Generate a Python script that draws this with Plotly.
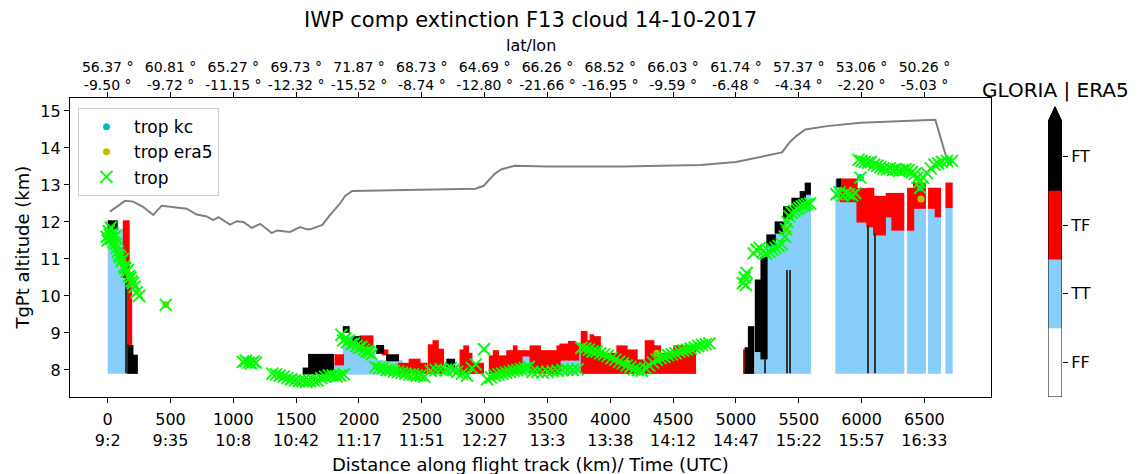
import plotly.graph_objects as go

FONT = "DejaVu Sans"

# ---- axis ticks along the flight track ----
dist_ticks = [0, 500, 1000, 1500, 2000, 2500, 3000, 3500, 4000, 4500, 5000, 5500, 6000, 6500]
time_labels = ["9:2", "9:35", "10:8", "10:42", "11:17", "11:51", "12:27", "13:3",
               "13:38", "14:12", "14:47", "15:22", "15:57", "16:33"]
lat_labels = ["56.37", "60.81", "65.27", "69.73", "71.87", "68.73", "64.69", "66.26",
              "68.52", "66.03", "61.74", "57.37", "53.06", "50.26"]
lon_labels = ["-9.50", "-9.72", "-11.15", "-12.32", "-15.52", "-8.74", "-12.80", "-21.66",
              "-16.95", "-9.59", "-6.48", "-4.34", "-2.20", "-5.03"]

# ---- cloud curtain: (x0 km, x1 km, bottom km, top km) per category ----
tt_cells = [  # GLORIA true / ERA5 true
    (5, 150, 7.91, 11.8),
    (1772, 1876, 7.89, 8.14),
    (1876, 1953, 7.89, 8.9), (1953, 2128, 7.89, 8.63),
    (2128, 2341, 7.89, 8.25),
    (2672, 2800, 7.91, 8.09),
    (3297, 3363, 7.91, 8.38),
    (3600, 3748, 7.91, 8.27),
    (3748, 3770, 7.91, 8.6),
    (5155, 5200, 7.91, 8.5), (5200, 5247, 7.91, 8.3),
    (5247, 5313, 7.91, 11.35), (5313, 5380, 7.91, 11.7), (5380, 5446, 7.91, 12.1),
    (5446, 5512, 7.91, 12.35), (5512, 5552, 7.91, 12.55), (5552, 5592, 7.91, 12.75),
    (5796, 5831, 7.91, 13.14), (5831, 5964, 7.91, 12.55), (5964, 6043, 7.91, 12.0),
    (6043, 6096, 7.91, 11.87), (6096, 6189, 7.91, 11.65), (6197, 6242, 7.91, 12.14),
    (6242, 6335, 7.91, 11.78), (6367, 6414, 7.91, 11.78), (6414, 6507, 7.91, 12.37),
    (6534, 6587, 7.91, 12.37), (6587, 6627, 7.91, 12.14), (6672, 6720, 7.91, 12.39),
]
tf_cells = [  # GLORIA true / ERA5 false
    (125, 170, 10.5, 12.03), (150, 190, 8.66, 10.5),
    (1810, 1876, 8.14, 8.41),
    (2009, 2110, 8.63, 8.92),
    (2187, 2229, 8.41, 8.54),
    (2314, 2400, 7.91, 8.18), (2400, 2485, 7.91, 8.29), (2485, 2540, 7.91, 8.18),
    (2553, 2590, 7.91, 8.68), (2590, 2630, 7.91, 8.79), (2630, 2672, 7.91, 8.56),
    (2805, 2835, 7.91, 8.54), (2835, 2871, 7.91, 8.65), (2871, 2898, 7.91, 8.45),
    (2898, 2990, 7.91, 8.18),
    (3038, 3070, 7.91, 8.38), (3070, 3110, 7.91, 8.52), (3110, 3177, 7.91, 8.38),
    (3177, 3230, 7.91, 8.52), (3230, 3257, 7.91, 8.65), (3257, 3297, 7.91, 8.52),
    (3297, 3363, 8.38, 8.52),
    (3363, 3443, 7.91, 8.65), (3443, 3496, 7.91, 8.52), (3496, 3576, 7.91, 8.52),
    (3576, 3600, 7.91, 8.65), (3600, 3668, 8.27, 8.7), (3668, 3721, 8.27, 8.77),
    (3721, 3748, 8.27, 8.7),
    (3770, 3814, 7.91, 9.04), (3814, 3840, 7.91, 8.79), (3840, 3867, 7.91, 8.95),
    (3867, 3920, 7.91, 8.9), (3920, 4053, 7.91, 8.45), (4053, 4133, 7.91, 8.65),
    (4133, 4213, 7.91, 8.54), (4213, 4266, 7.91, 8.27),
    (4279, 4346, 7.91, 8.79), (4346, 4399, 7.91, 8.65), (4399, 4505, 7.91, 8.45),
    (4505, 4678, 7.91, 8.65),
    (5061, 5074, 7.91, 8.54),
    (5831, 5964, 12.55, 13.16), (5964, 6043, 12.0, 12.9), (6043, 6096, 11.87, 12.91),
    (6096, 6189, 11.65, 12.69), (6197, 6242, 12.14, 12.77), (6242, 6335, 11.78, 12.77),
    (6367, 6414, 11.78, 12.91), (6414, 6507, 12.37, 13.05), (6534, 6587, 12.37, 12.91),
    (6587, 6627, 12.14, 12.91), (6672, 6720, 12.39, 13.05),
]
ft_cells = [  # GLORIA false / ERA5 true
    (5, 75, 11.8, 12.03),
    (160, 200, 7.91, 8.66), (200, 235, 7.91, 8.4),
    (1557, 1600, 7.89, 8.05), (1600, 1796, 7.89, 8.42),
    (1876, 1921, 9.02, 9.17), (1953, 2009, 8.7, 8.9),
    (2142, 2195, 8.45, 8.66), (2221, 2314, 8.25, 8.41),
    (2700, 2760, 8.09, 8.29),
    (5074, 5100, 7.91, 8.6), (5100, 5141, 7.91, 9.17),
    (5155, 5200, 8.5, 10.43), (5200, 5247, 8.3, 11.05),
    (5247, 5313, 11.35, 11.65), (5313, 5380, 11.7, 12.0), (5380, 5446, 12.1, 12.41),
    (5446, 5512, 12.35, 12.64), (5512, 5552, 12.55, 12.82), (5552, 5592, 12.75, 13.05),
    (5804, 5831, 12.95, 13.16),
]
# single-profile columns that show up as hairlines
ft_lines = [(149, 7.91, 10.6), (5234, 7.91, 8.3), (5410, 7.91, 10.7), (5432, 7.91, 10.7),
            (6048, 7.91, 11.9), (6104, 7.91, 11.7)]

# ---- aircraft flight altitude ----
flight_km = [18, 85, 138, 204, 284, 363, 430, 629, 709, 788, 841, 881, 974, 1027, 1080,
             1146, 1213, 1306, 1346, 1451, 1491, 1531, 1585, 1613, 1708, 1770, 1850,
             1890, 1946, 2200, 2500, 2925, 2990, 3040, 3080, 3130, 3240, 3500, 3800,
             4100, 4400, 4720, 5000, 5195, 5366, 5432, 5480, 5552, 5725, 5990, 6255,
             6587, 6680]
flight_alt = [12.28, 12.43, 12.57, 12.55, 12.4, 12.19, 12.44, 12.36, 12.2, 12.15, 12.05,
              12.13, 11.93, 12.02, 12.0, 11.84, 11.95, 11.7, 11.77, 11.73, 11.8, 11.86,
              11.8, 11.8, 11.92, 12.19, 12.5, 12.7, 12.84, 12.86, 12.87, 12.9, 12.97,
              13.15, 13.3, 13.42, 13.52, 13.5, 13.49, 13.5, 13.52, 13.54, 13.62, 13.76,
              13.88, 14.17, 14.32, 14.5, 14.59, 14.68, 14.72, 14.76, 13.68]

# ---- tropopause estimates ----
trop_km = [-8, 0, 8, 16, 24, 32, 40, 48, 56, 64, 72, 80, 90, 100, 110, 120, 130, 140, 150,
           160, 170, 180, 190, 200, 215, 230, 250, 462,
           1075, 1100, 1120, 1140, 1160, 1180,
           1310, 1340, 1370, 1400, 1430, 1460, 1490, 1520, 1550, 1580, 1610, 1640, 1670,
           1700, 1730, 1760, 1790, 1820, 1850, 1880,
           1860, 1875, 1890, 1905, 1920, 1940, 1960, 1980, 2000, 2020, 2040, 2060, 2080, 2100,
           2130, 2160, 2190, 2220, 2250, 2280, 2310, 2340, 2370, 2400, 2430, 2460, 2490, 2520,
           2570, 2610, 2650, 2690, 2730, 2750, 2780, 2820, 2860, 2900, 2930, 2995,
           3020, 3050, 3080, 3110, 3140, 3170, 3200, 3230, 3260, 3290, 3320, 3350,
           3380, 3420, 3460, 3500, 3540, 3580, 3620, 3660, 3700, 3740,
           3770, 3800, 3830, 3860, 3890, 3920, 3950, 3980, 4010, 4040, 4070, 4100, 4130,
           4160, 4190, 4220, 4250,
           4280, 4310, 4340, 4370, 4400, 4430, 4460, 4490, 4520, 4550, 4580, 4610, 4640,
           4670, 4700, 4730, 4760, 4790,
           5055, 5070, 5085, 5080,
           5140, 5165, 5190, 5215, 5240, 5265, 5290, 5315, 5340, 5365, 5390, 5400, 5410,
           5425, 5445, 5465, 5485, 5505, 5525, 5545, 5565, 5590,
           5800, 5825, 5850, 5875, 5900, 5925, 5950,
           5975, 6000, 6025, 6050, 6075, 6100, 6125, 6150, 6175, 6200, 6225, 6250, 6275,
           6300, 6325, 6350, 6375, 6400, 6425, 6445, 6460, 6490, 6520, 6550, 6580, 6610,
           6640, 6680, 6720, 5990, 6467]
trop_alt = [11.6, 11.5, 11.75, 11.65, 11.85, 11.55, 11.7, 11.45, 11.6, 11.4, 11.3, 11.2,
            11.1, 11.05, 10.95, 11.0, 10.8, 10.75, 10.65, 10.7, 10.55, 10.5, 10.4, 10.35,
            10.25, 10.1, 10.0, 9.76,
            8.22, 8.25, 8.2, 8.18, 8.23, 8.2,
            7.9, 7.88, 7.85, 7.82, 7.78, 7.75, 7.72, 7.7, 7.7, 7.68, 7.7, 7.72, 7.72,
            7.78, 7.82, 7.85, 7.85, 7.83, 7.85, 7.88,
            8.95, 8.8, 8.85, 8.75, 8.8, 8.7, 8.72, 8.65, 8.6, 8.62, 8.55, 8.5, 8.48, 8.42,
            8.08, 8.05, 8.05, 8.0, 8.0, 7.97, 7.95, 7.93, 7.9, 7.88, 7.88, 7.85, 7.85, 7.82,
            7.98, 8.0, 8.02, 8.0, 8.05, 8.0, 7.95, 7.9, 7.85, 8.05, 8.15, 8.56,
            7.75, 7.8, 7.85, 7.88, 7.9, 7.93, 7.95, 7.98, 8.0, 8.02, 8.05, 8.08,
            7.95, 7.95, 7.93, 7.95, 7.97, 7.98, 8.0, 8.0, 8.0, 8.02,
            8.6, 8.58, 8.55, 8.5, 8.5, 8.45, 8.42, 8.38, 8.32, 8.28, 8.22, 8.18, 8.12,
            8.08, 8.02, 8.0, 7.98,
            8.05, 8.12, 8.2, 8.28, 8.32, 8.35, 8.4, 8.42, 8.45, 8.5, 8.52, 8.55, 8.58,
            8.6, 8.65, 8.68, 8.7, 8.72,
            10.35, 10.5, 10.62, 10.3,
            11.15, 11.25, 11.3, 11.2, 11.15, 11.2, 11.25, 11.3, 11.35, 11.4, 11.6, 11.8, 12.0,
            12.15, 12.25, 12.3, 12.35, 12.38, 12.42, 12.45, 12.48, 12.5,
            12.75, 12.8, 12.72, 12.78, 12.75, 12.72, 12.78,
            13.68, 13.65, 13.62, 13.6, 13.62, 13.55, 13.52, 13.48, 13.45, 13.42, 13.45, 13.4,
            13.42, 13.38, 13.4, 13.42, 13.4, 13.35, 13.3, 13.2, 13.08, 13.2, 13.32, 13.45,
            13.55, 13.58, 13.62, 13.65, 13.65, 13.2, 12.92]

trop_kc_km = [40, 120, 5300, 5990, 6150, 6467, 6700]
trop_kc_alt = [11.7, 11.0, 11.3, 13.2, 13.48, 12.92, 13.65]
trop_era5_km = [60, 180, 462, 1120, 4132, 4371, 5400, 6473]
trop_era5_alt = [11.5, 10.5, 9.76, 8.2, 8.19, 8.45, 11.8, 12.62]

# ---- colour classes ----
class_names = ["FF", "TT", "TF", "FT"]
class_colors = ["#ffffff", "#87cefa", "#ff0000", "#000000"]

fig = go.Figure()

PAD_X = 5      # km of overlap so neighbouring profiles close up without seams
PAD_Y = 0.015  # km of vertical overlap between stacked classes


def add_cells(cells, color):
    fig.add_trace(go.Bar(
        x=[(c[0] + c[1]) / 2 for c in cells],
        width=[c[1] - c[0] + 2 * PAD_X for c in cells],
        base=[c[2] - PAD_Y for c in cells],
        y=[c[3] - c[2] + 2 * PAD_Y for c in cells],
        marker=dict(color=color, line=dict(width=0)),
        showlegend=False, hoverinfo="skip", xaxis="x", yaxis="y"))


add_cells(tt_cells, class_colors[1])
add_cells(tf_cells, class_colors[2])
add_cells(ft_cells, class_colors[3])
fig.add_trace(go.Bar(
    x=[c[0] for c in ft_lines], width=[9] * len(ft_lines),
    base=[c[1] for c in ft_lines], y=[c[2] - c[1] for c in ft_lines],
    marker=dict(color="#333333", line=dict(width=0)),
    showlegend=False, hoverinfo="skip", xaxis="x", yaxis="y"))

fig.add_trace(go.Scatter(x=flight_km, y=flight_alt, mode="lines",
                         line=dict(color="#808080", width=2), showlegend=False,
                         hoverinfo="skip"))
# same track on the lat/lon axis so that axis gets drawn
fig.add_trace(go.Scatter(x=flight_km, y=flight_alt, mode="lines", opacity=0,
                         line=dict(color="#808080", width=1), showlegend=False,
                         hoverinfo="skip", xaxis="x2", yaxis="y"))

fig.add_trace(go.Scatter(x=trop_kc_km, y=trop_kc_alt, mode="markers", name="trop kc",
                         marker=dict(color="#00bfbf", size=7)))
fig.add_trace(go.Scatter(x=trop_era5_km, y=trop_era5_alt, mode="markers", name="trop era5",
                         marker=dict(color="#bfbf00", size=7)))
fig.add_trace(go.Scatter(x=trop_km, y=trop_alt, mode="markers", name="trop",
                         marker=dict(symbol="x-thin", size=12, color="#00ff00",
                                     line=dict(color="#00ff00", width=1.9))))

# ---- colour bar as its own small axes ----
fig.add_trace(go.Bar(x=[0, 0, 0, 0], y=[1.01, 1.01, 1.01, 1], base=[0, 1, 2, 3], width=1,
                     marker=dict(color=class_colors, line=dict(width=0)),
                     showlegend=False, hoverinfo="skip", xaxis="x3", yaxis="y3"))
fig.add_trace(go.Scatter(x=[-0.5, 0.5, 0, -0.5], y=[4, 4, 4.22, 4], fill="toself",
                         fillcolor="black", mode="lines", line=dict(color="black", width=1),
                         showlegend=False, hoverinfo="skip", xaxis="x3", yaxis="y3"))
fig.add_trace(go.Scatter(x=[-0.5, 0.5, 0.5, 0, -0.5, -0.5], y=[0, 0, 4, 4.22, 4, 0],
                         mode="lines", line=dict(color="black", width=1),
                         showlegend=False, hoverinfo="skip", xaxis="x3", yaxis="y3"))

xr = [-300, 7030]
main_dom = [0, 921 / 999]
tick_font = dict(family=FONT, size=16, color="black")
top_font = dict(family=FONT, size=14, color="black")

fig.update_layout(
    width=1139, height=474,
    margin=dict(l=70, r=70, t=98, b=77),
    plot_bgcolor="white", paper_bgcolor="white",
    barmode="overlay",
    font=dict(family=FONT, size=14, color="black"),
    xaxis=dict(domain=main_dom, range=xr, tickmode="array", tickvals=dist_ticks,
               ticktext=[f"{d}<br>{t}" for d, t in zip(dist_ticks, time_labels)],
               ticks="outside", ticklen=5, tickcolor="black", showline=True,
               linecolor="black", linewidth=1.2, showgrid=False, zeroline=False,
               tickfont=tick_font, ticklabelstandoff=3, anchor="y"),
    xaxis2=dict(domain=main_dom, range=xr, overlaying="x", side="top", anchor="y",
                tickmode="array", tickvals=dist_ticks,
                ticktext=[f"{a} °<br>{o} °" for a, o in zip(lat_labels, lon_labels)],
                ticks="outside", ticklen=5, tickcolor="black", showline=True,
                linecolor="black", linewidth=1.2, showgrid=False, zeroline=False,
                tickfont=top_font, ticklabelstandoff=-4),
    yaxis=dict(range=[7.27, 15.35], tickmode="array", tickvals=list(range(8, 16)),
               ticks="outside", ticklen=5, tickcolor="black", showline=True, mirror=True,
               linecolor="black", linewidth=1.2, showgrid=False, zeroline=False,
               tickfont=tick_font, anchor="x"),
    xaxis3=dict(domain=[978 / 999, 992 / 999], range=[-0.5, 0.5], visible=False,
                anchor="y3"),
    yaxis3=dict(domain=[0, 1], range=[0, 4.349], side="right", anchor="x3",
                tickmode="array", tickvals=[0.5, 1.5, 2.5, 3.5], ticktext=class_names,
                ticks="outside", ticklen=5, tickcolor="black", showline=False,
                showgrid=False, zeroline=False, tickfont=tick_font),
    legend=dict(x=0.008, y=0.966, xanchor="left", yanchor="top",
                bgcolor="rgba(255,255,255,0.8)", bordercolor="#cccccc", borderwidth=1,
                font=dict(family=FONT, size=17), itemwidth=45, tracegroupgap=0),
    annotations=[
        dict(text="IWP comp extinction F13 cloud 14-10-2017", xref="paper", yref="paper",
             x=0.461, y=1.261, showarrow=False, font=dict(family=FONT, size=21),
             xanchor="center", yanchor="middle"),
        dict(text="lat/lon", xref="paper", yref="paper", x=0.461, y=1.174,
             showarrow=False, font=dict(family=FONT, size=16),
             xanchor="center", yanchor="middle"),
        dict(text="Distance along flight track (km)/ Time (UTC)", xref="paper",
             yref="paper", x=0.461, y=-0.227, showarrow=False,
             font=dict(family=FONT, size=18), xanchor="center", yanchor="middle"),
        dict(text="TgPt altitude (km)", xref="paper", yref="paper", x=-0.048, y=0.5,
             textangle=-90, showarrow=False, font=dict(family=FONT, size=18),
             xanchor="center", yanchor="middle"),
        dict(text="GLORIA | ERA5", xref="paper", yref="paper", x=0.986, y=1.027,
             showarrow=False, font=dict(family=FONT, size=20),
             xanchor="center", yanchor="middle"),
    ],
)

fig.write_html("out.html")
